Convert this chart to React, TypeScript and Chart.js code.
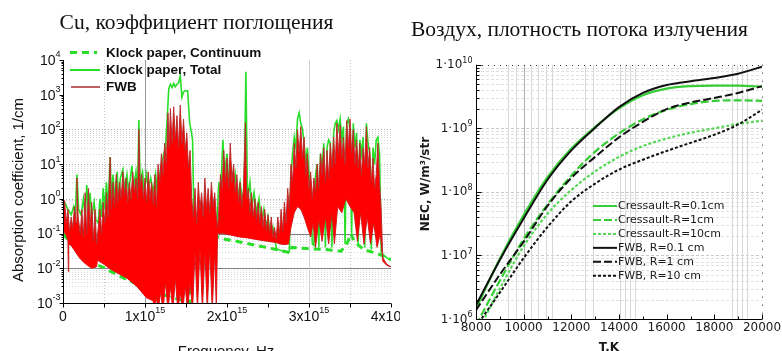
import React, { useEffect, useRef } from 'react';
import { Chart, registerables } from 'chart.js';

Chart.register(...registerables);

/* ====================== LEFT: Cu absorption coefficient ====================== */
// frequency in units of 1e15 Hz, absorption coefficient in 1/cm
const cuXMajorTicks = [0, 1, 2, 3, 4];
const cuXMinorTicks = [0.5, 1.5, 2.5, 3.5];
const cuYDecadeExps = [-3, -2, -1, 0, 1, 2, 3, 4];
const cuLegendLabels = ['Klock paper, Continuum', 'Klock paper, Total', 'FWB'];

const klockContinuum: [number, number][] = [
  [0, 0.1], [0.1, 0.05], [0.2, 0.03], [0.3, 0.018], [0.4, 0.013], [0.5, 0.0105], [0.575, 0.0083],
  [0.7, 0.0058], [0.82, 0.0043], [0.9, 0.0035], [1.0, 0.0028], [1.1, 0.0022], [1.2, 0.0018],
  [1.3, 0.0015], [1.4, 0.0013], [1.5, 0.0011], [1.55, 0.001], [1.551, 0.075], [1.65, 0.068],
  [1.76, 0.06], [1.83, 0.058], [1.84, 0.085], [1.96, 0.07], [2.13, 0.059], [2.37, 0.045],
  [2.57, 0.036], [2.78, 0.028], [2.79, 0.04], [2.98, 0.037], [3.18, 0.035], [3.39, 0.031],
  [3.47, 0.055], [3.51, 0.1], [3.55, 0.06], [3.67, 0.034], [3.83, 0.027], [4.0, 0.018],
];

const klockTotal: [number, number][] = [
  [0, 0.9], [0.03, 0.7], [0.06, 0.5], [0.1, 0.35], [0.13, 0.6], [0.15, 0.4], [0.17, 5], [0.19, 0.5],
  [0.22, 0.35], [0.25, 1.0], [0.27, 0.3], [0.29, 2.5], [0.31, 0.4], [0.33, 1.5], [0.35, 0.3], [0.38, 0.8],
  [0.4, 0.25], [0.43, 0.2], [0.45, 1.0], [0.47, 0.3], [0.49, 2], [0.51, 0.5], [0.53, 3], [0.55, 0.5],
  [0.575, 16], [0.59, 0.8], [0.61, 5], [0.63, 1], [0.66, 6], [0.68, 1], [0.7, 4], [0.73, 7], [0.75, 2],
  [0.78, 5], [0.8, 1.5], [0.84, 9], [0.86, 2], [0.89, 6], [0.91, 1.5], [0.925, 186], [0.94, 3], [0.97, 6],
  [0.99, 1.5], [1.02, 5], [1.04, 2], [1.07, 4], [1.1, 1.5], [1.13, 5], [1.15, 1.5], [1.18, 5], [1.2, 10],
  [1.23, 20], [1.25, 30], [1.27, 200], [1.29, 1500], [1.31, 2000], [1.33, 1600], [1.35, 2100], [1.37, 1700],
  [1.39, 2000], [1.41, 2200], [1.43, 3500], [1.45, 850], [1.47, 1200], [1.49, 1300], [1.52, 1300],
  [1.545, 150], [1.56, 100], [1.58, 50], [1.6, 0.12], [1.62, 0.1], [1.7, 0.09], [1.8, 0.085], [1.86, 0.09],
  [1.88, 0.3], [1.9, 3], [1.92, 1], [1.95, 50], [1.97, 5], [2.0, 20], [2.02, 3], [2.05, 8], [2.08, 2],
  [2.1, 5], [2.13, 1], [2.16, 3], [2.19, 0.8], [2.21, 2], [2.23, 4600], [2.25, 1], [2.28, 3], [2.3, 0.5],
  [2.33, 1.5], [2.36, 0.4], [2.39, 1], [2.42, 0.2], [2.45, 0.5], [2.48, 0.15], [2.5, 0.3], [2.53, 0.08],
  [2.56, 0.15], [2.6, 0.04], [2.62, 0.035], [2.7, 0.03], [2.76, 0.03], [2.78, 5], [2.8, 20], [2.82, 60],
  [2.84, 30], [2.86, 200], [2.88, 300], [2.9, 150], [2.92, 100], [2.94, 40], [2.96, 10], [2.98, 30],
  [3.0, 5], [3.02, 3], [3.04, 0.05], [3.06, 0.045], [3.08, 5], [3.1, 10], [3.12, 0.04], [3.14, 20],
  [3.16, 8], [3.18, 40], [3.2, 0.04], [3.22, 30], [3.24, 50], [3.26, 40], [3.28, 0.04], [3.3, 80],
  [3.32, 150], [3.34, 180], [3.36, 100], [3.38, 200], [3.4, 50], [3.42, 120], [3.44, 0.05], [3.46, 150],
  [3.48, 200], [3.5, 100], [3.52, 0.1], [3.54, 150], [3.56, 30], [3.58, 80], [3.6, 0.05], [3.62, 50],
  [3.64, 20], [3.66, 60], [3.68, 0.04], [3.7, 150], [3.72, 40], [3.74, 20], [3.76, 0.035], [3.78, 30],
  [3.8, 10], [3.82, 50], [3.84, 60], [3.86, 20], [3.88, 0.03], [3.9, 0.025], [3.95, 0.02], [4.0, 0.017],
];

const fwbUpper: [number, number][] = [
  [0, 0.3], [0.02, 0.9], [0.04, 0.2], [0.06, 0.5], [0.08, 0.12], [0.1, 0.3], [0.12, 0.15], [0.14, 0.6],
  [0.16, 0.2], [0.17, 4], [0.185, 0.3], [0.21, 0.1], [0.23, 0.5], [0.25, 0.08], [0.27, 1.5], [0.29, 0.1],
  [0.31, 2], [0.33, 0.15], [0.35, 0.8], [0.37, 0.06], [0.39, 0.5], [0.41, 0.05],
  [0.43, 0.15], [0.45, 0.5], [0.47, 0.1], [0.49, 0.8], [0.51, 0.2], [0.53, 1.5], [0.55, 0.3], [0.575, 16],
  [0.59, 0.5], [0.61, 3], [0.63, 0.6], [0.65, 5], [0.67, 0.8], [0.69, 3], [0.71, 1], [0.73, 6], [0.75, 1.2],
  [0.77, 4], [0.79, 0.8], [0.81, 3], [0.83, 1], [0.85, 6], [0.87, 1.5], [0.89, 4], [0.91, 1], [0.925, 100],
  [0.94, 2], [0.96, 5], [0.98, 1], [1.0, 4], [1.02, 0.8], [1.04, 6], [1.06, 1], [1.08, 3], [1.1, 0.7],
  [1.12, 5], [1.14, 0.6],
  [1.16, 10], [1.18, 3], [1.2, 20], [1.22, 5], [1.24, 40], [1.26, 10], [1.28, 300], [1.295, 30], [1.31, 400],
  [1.33, 40], [1.35, 450], [1.37, 50], [1.39, 250], [1.41, 30], [1.43, 500], [1.45, 40], [1.47, 200],
  [1.49, 25], [1.51, 80], [1.53, 8], [1.55, 25], [1.57, 1],
  [1.59, 0.3], [1.61, 2], [1.63, 0.2], [1.65, 3], [1.67, 0.5], [1.69, 1.5], [1.71, 0.3], [1.73, 4],
  [1.75, 0.5], [1.77, 2], [1.79, 0.4], [1.81, 3], [1.83, 0.6], [1.85, 1.5], [1.87, 0.3], [1.885, 0.15],
  [1.9, 0.5], [1.92, 5], [1.94, 2], [1.96, 25], [1.98, 3], [2.0, 15], [2.02, 2], [2.04, 40], [2.06, 3],
  [2.08, 10], [2.1, 1.5], [2.12, 5], [2.14, 0.8], [2.16, 3], [2.18, 0.6], [2.2, 2], [2.225, 155], [2.24, 1],
  [2.26, 2], [2.28, 0.4], [2.3, 1.5], [2.32, 0.3], [2.34, 1], [2.36, 0.25], [2.38, 0.8], [2.4, 0.2],
  [2.42, 0.6], [2.44, 0.15], [2.46, 0.5], [2.48, 0.12], [2.5, 0.35], [2.52, 0.1], [2.54, 0.3], [2.56, 0.08],
  [2.58, 0.15], [2.6, 0.07],
  [2.62, 0.3], [2.64, 0.1], [2.66, 0.5], [2.68, 0.12], [2.7, 0.8], [2.72, 0.2], [2.74, 2], [2.76, 0.5],
  [2.78, 10], [2.8, 3], [2.82, 40], [2.84, 8], [2.86, 100], [2.88, 20], [2.9, 120], [2.92, 15], [2.94, 60],
  [2.96, 5], [2.98, 20], [3.0, 2], [3.02, 6], [3.04, 1], [3.06, 4], [3.08, 1.5], [3.1, 10], [3.12, 2],
  [3.14, 20], [3.16, 5], [3.18, 30], [3.2, 3], [3.22, 25], [3.24, 4], [3.26, 40], [3.28, 8], [3.3, 60],
  [3.32, 10], [3.34, 150], [3.36, 20], [3.38, 130], [3.4, 15], [3.42, 60], [3.44, 10], [3.46, 180],
  [3.48, 30], [3.5, 200], [3.52, 20], [3.54, 100], [3.56, 10], [3.58, 50], [3.6, 8], [3.62, 40], [3.64, 5],
  [3.66, 30], [3.68, 10], [3.7, 120], [3.72, 8], [3.74, 30], [3.76, 3], [3.78, 15], [3.8, 2], [3.82, 5],
  [3.84, 40], [3.86, 3], [3.88, 0.5], [3.9, 0.02], [3.95, 0.013], [4.0, 0.011],
];

const fwbLower: [number, number][] = [
  [0, 0.12], [0.04, 0.09], [0.06, 0.06], [0.065, 0.008], [0.07, 0.05], [0.1, 0.045], [0.15, 0.03],
  [0.2, 0.02], [0.25, 0.015], [0.3, 0.012], [0.35, 0.01], [0.41, 0.011], [0.42, 0.017], [0.5, 0.013],
  [0.575, 0.0095], [0.7, 0.0065], [0.78, 0.0052], [0.9, 0.003], [1.02, 0.0014], [1.085, 0.0012],
  [1.1, 0.0011], [1.12, 0.0006], [1.14, 0.0015], [1.16, 0.0006], [1.19, 0.002], [1.22, 0.0006],
  [1.25, 0.004], [1.28, 0.0006], [1.31, 0.003], [1.34, 0.0006], [1.37, 0.005], [1.4, 0.0006],
  [1.43, 0.002], [1.46, 0.0006], [1.49, 0.003], [1.52, 0.0006], [1.55, 0.004], [1.58, 0.0006],
  [1.61, 0.03], [1.64, 0.0006], [1.67, 0.04], [1.7, 0.0006], [1.73, 0.03], [1.76, 0.0006], [1.79, 0.04],
  [1.82, 0.0006], [1.85, 0.03], [1.87, 0.0006], [1.885, 0.1], [1.95, 0.1], [2.05, 0.09], [2.15, 0.08],
  [2.25, 0.075], [2.35, 0.068], [2.45, 0.062], [2.55, 0.057], [2.6, 0.055], [2.65, 0.05], [2.7, 0.048],
  [2.75, 0.05], [2.78, 0.15], [2.82, 0.4], [2.86, 0.6], [2.9, 0.5], [2.94, 0.3], [2.98, 0.15], [3.02, 0.08],
  [3.05, 0.2], [3.08, 0.04], [3.12, 0.25], [3.16, 0.06], [3.2, 0.3], [3.24, 0.05], [3.28, 0.4], [3.31, 0.05],
  [3.35, 0.6], [3.4, 0.4], [3.45, 1.0], [3.5, 0.6], [3.55, 0.4], [3.59, 0.06], [3.63, 0.4], [3.67, 0.05],
  [3.71, 0.3], [3.75, 0.05], [3.79, 0.2], [3.83, 0.04], [3.87, 0.1], [3.9, 0.016], [3.95, 0.012], [4.0, 0.011],
];

/* ====================== RIGHT: air net emission coefficient ====================== */
const airTemps = [8000, 9000, 10000, 11000, 12000, 13000, 14000, 15000, 16000, 17000, 18000, 19000, 20000];
const airXLabelTemps = [8000, 10000, 12000, 14000, 16000, 18000, 20000];
const airXMinorTemps = [9000, 11000, 13000, 15000, 17000, 19000];
const airYDecadeExps = [6, 7, 8, 9, 10];
const airGridTemps = [9350, 9680, 10000, 10310, 10620, 10930, 11180, 12580, 12930, 14050, 14260, 14470, 14680, 18740, 18950, 19160, 19370];
const airLegendLabels = ['Cressault-R=0.1cm', 'Cressault-R=1cm', 'Cressault-R=10cm', 'FWB, R=0.1 cm', 'FWB, R=1 cm', 'FWB, R=10 cm'];

const cressaultR01 = [1.45e6, 8.9e6, 4.3e7, 1.7e8, 4.8e8, 1.05e9, 2.05e9, 3.3e9, 4.2e9, 4.6e9, 4.7e9, 4.7e9, 4.5e9];
const cressaultR1 = [8.0e5, 4.0e6, 1.8e7, 6.3e7, 1.8e8, 4.3e8, 8.3e8, 1.38e9, 1.95e9, 2.4e9, 2.7e9, 2.75e9, 2.7e9];
const cressaultR10 = [5.6e5, 3.0e6, 1.4e7, 4.5e7, 1.07e8, 2.1e8, 3.55e8, 5.25e8, 6.9e8, 8.5e8, 1.0e9, 1.17e9, 1.32e9];
const fwbR01 = [1.65e6, 8.5e6, 3.8e7, 1.55e8, 4.5e8, 1.02e9, 2.15e9, 3.6e9, 4.8e9, 5.5e9, 6.2e9, 7.2e9, 9.3e9];
const fwbR1 = [1.38e6, 5.0e6, 1.65e7, 6.0e7, 1.66e8, 3.55e8, 7.2e8, 1.26e9, 2.0e9, 2.55e9, 3.0e9, 3.6e9, 4.6e9];
const fwbR10 = [7.6e5, 2.6e6, 9.1e6, 2.8e7, 7.1e7, 1.35e8, 2.24e8, 3.2e8, 4.4e8, 5.9e8, 7.9e8, 1.15e9, 1.95e9];

/* ====================== styles ====================== */
const SANS = '"Liberation Sans", Arial, sans-serif';
const DJ = '"DejaVu Sans", Verdana, sans-serif';
const K_GREEN = 'rgb(40,222,40)';
const FWB_FILL = 'rgb(255,0,0)';
const FWB_EDGE = 'rgb(185,45,45)';
const A_GREEN = 'rgb(55,205,55)';
const A_GREEN_LIGHT = 'rgb(85,215,85)';
const A_BLACK = '#111';

const toPoints = (pairs: [number, number][]) => pairs.map(([x, y]) => ({ x, y }));
const zipPoints = (xs: number[], ys: number[]) => xs.map((x, i) => ({ x, y: ys[i] }));

function seg(ctx: CanvasRenderingContext2D, x1: number, y1: number, x2: number, y2: number) {
  ctx.beginPath();
  ctx.moveTo(x1, y1);
  ctx.lineTo(x2, y2);
  ctx.stroke();
}

function supText(ctx: CanvasRenderingContext2D, base: string, exp: string, x: number, y: number,
  baseFont: string, expFont: string, align: string, raise: number) {
  ctx.font = baseFont;
  const wb = ctx.measureText(base).width;
  ctx.font = expFont;
  const we = exp ? ctx.measureText(exp).width : 0;
  const total = wb + we;
  const x0 = align === 'right' ? x - total : align === 'center' ? x - total / 2 : x;
  ctx.textAlign = 'left';
  ctx.textBaseline = 'middle';
  ctx.font = baseFont;
  ctx.fillText(base, x0, y);
  if (exp) {
    ctx.font = expFont;
    ctx.fillText(exp, x0 + wb, y - raise);
  }
}

const cuDecor = {
  id: 'cuDecor',
  beforeDatasetsDraw(chart: any) {
    const { ctx, chartArea: a, scales } = chart;
    const xs = scales.x;
    const ys = scales.y;
    ctx.save();
    ctx.lineWidth = 1;
    ctx.strokeStyle = '#d6d6d6';
    ctx.setLineDash([1, 2]);
    cuYDecadeExps.forEach((e) => {
      if (e > 1) return;
      for (let m = 2; m <= 9; m++) {
        const py = Math.round(ys.getPixelForValue(m * Math.pow(10, e))) + 0.5;
        if (py > a.top && py < a.bottom) seg(ctx, a.left, py, a.right, py);
      }
    });
    cuYDecadeExps.forEach((e) => {
      const py = Math.round(ys.getPixelForValue(Math.pow(10, e))) + 0.5;
      if (e === -1 || e === -2) {
        ctx.setLineDash([]);
        ctx.strokeStyle = '#808080';
        seg(ctx, a.left, py, a.right, py);
      } else if (e >= 0 && e <= 2) {
        ctx.setLineDash([1, 2]);
        ctx.strokeStyle = '#aaaaaa';
        seg(ctx, a.left, py, a.right, py);
      }
    });
    cuXMajorTicks.forEach((v) => {
      const px = Math.round(xs.getPixelForValue(v)) + 0.5;
      if (v === 1) { ctx.setLineDash([]); ctx.strokeStyle = '#9a9a9a'; seg(ctx, px, a.top, px, a.bottom); }
      if (v === 3) { ctx.setLineDash([]); ctx.strokeStyle = '#d0d0d0'; seg(ctx, px, a.top, px, a.bottom); }
    });
    cuXMinorTicks.forEach((v) => {
      const px = Math.round(xs.getPixelForValue(v)) + 0.5;
      if (v === 0.5 || v === 3.5) { ctx.setLineDash([1, 2]); ctx.strokeStyle = '#c4c4c4'; seg(ctx, px, a.top, px, a.bottom); }
    });
    ctx.restore();
  },
  afterDatasetsDraw(chart: any) {
    const { ctx, chartArea: a, scales } = chart;
    const xs = scales.x;
    const ys = scales.y;
    ctx.save();
    ctx.setLineDash([]);
    ctx.strokeStyle = '#000';
    ctx.lineWidth = 1;
    const L = Math.round(a.left) + 0.5;
    const B = Math.round(a.bottom) + 0.5;
    seg(ctx, L, a.top, L, B);
    seg(ctx, L, B, a.right, B);
    cuYDecadeExps.forEach((e) => {
      const py = Math.round(ys.getPixelForValue(Math.pow(10, e))) + 0.5;
      seg(ctx, L - 4, py, L, py);
      if (e < 4) {
        for (let m = 2; m <= 9; m++) {
          const pm = Math.round(ys.getPixelForValue(m * Math.pow(10, e))) + 0.5;
          seg(ctx, L - 2, pm, L, pm);
        }
      }
    });
    [...cuXMajorTicks, ...cuXMinorTicks].forEach((v) => {
      const px = Math.round(xs.getPixelForValue(v)) + 0.5;
      seg(ctx, px, B, px, B + 4);
    });
    ctx.fillStyle = '#111';
    cuYDecadeExps.forEach((e) => {
      const py = ys.getPixelForValue(Math.pow(10, e));
      supText(ctx, '10', String(e), L - 3, py + 1, `14px ${SANS}`, `9px ${SANS}`, 'right', 6);
    });
    cuXMajorTicks.forEach((v) => {
      const px = xs.getPixelForValue(v);
      if (v === 0) supText(ctx, '0', '', px, 317, `14px ${SANS}`, `9px ${SANS}`, 'center', 6);
      else supText(ctx, `${v}x10`, '15', px, 317, `14px ${SANS}`, `9px ${SANS}`, 'center', 6);
    });
    ctx.font = `15px ${SANS}`;
    ctx.textAlign = 'center';
    ctx.textBaseline = 'alphabetic';
    ctx.fillText('Frequency, Hz', 226, 356);
    ctx.save();
    ctx.translate(22.5, 190);
    ctx.rotate(-Math.PI / 2);
    ctx.fillText('Absorption coefficient, 1/cm', 0, 0);
    ctx.restore();
    const ds = chart.data.datasets;
    const rows = [
      { ds: ds[2], y: 52.5, x1: 70, x2: 97, w: 3, color: K_GREEN },
      { ds: ds[3], y: 70, x1: 70, x2: 100, w: 2, color: K_GREEN },
      { ds: ds[0], y: 87, x1: 71, x2: 100, w: 1.5, color: 'rgb(170,45,45)' },
    ];
    rows.forEach((r, i) => {
      ctx.strokeStyle = r.color;
      ctx.lineWidth = r.w;
      ctx.setLineDash(r.ds.borderDash || []);
      seg(ctx, r.x1, r.y, r.x2, r.y);
      ctx.setLineDash([]);
      ctx.fillStyle = '#111';
      ctx.font = `bold 13.5px ${SANS}`;
      ctx.textAlign = 'left';
      ctx.textBaseline = 'middle';
      ctx.fillText(cuLegendLabels[i], 106, r.y + 0.5);
    });
    ctx.restore();
  },
};

const airDecor = {
  id: 'airDecor',
  beforeDatasetsDraw(chart: any) {
    const { ctx, chartArea: a, scales } = chart;
    const xs = scales.x;
    const ys = scales.y;
    ctx.save();
    ctx.lineWidth = 1;
    ctx.strokeStyle = '#e0e0e0';
    ctx.setLineDash([3, 2]);
    airYDecadeExps.forEach((e) => {
      if (e >= 10) return;
      for (let m = 2; m <= 9; m++) {
        const py = Math.round(ys.getPixelForValue(m * Math.pow(10, e))) + 0.5;
        seg(ctx, a.left, py, a.right, py);
      }
    });
    ctx.strokeStyle = '#c8c8c8';
    airYDecadeExps.forEach((e) => {
      if (e === 6 || e === 10) return;
      const py = Math.round(ys.getPixelForValue(Math.pow(10, e))) + 0.5;
      seg(ctx, a.left, py, a.right, py);
    });
    ctx.setLineDash([]);
    airGridTemps.forEach((t) => {
      const px = Math.round(xs.getPixelForValue(t)) + 0.5;
      ctx.strokeStyle = t === 10000 ? '#b0b0b0' : '#d8d8d8';
      seg(ctx, px, a.top, px, a.bottom);
    });
    ctx.strokeStyle = '#333';
    ctx.setLineDash([1, 5]);
    const T = Math.round(a.top) + 0.5;
    const R = Math.round(a.right) + 0.5;
    seg(ctx, a.left, T, a.right, T);
    ctx.setLineDash([1, 7]);
    seg(ctx, R, a.top, R, a.bottom);
    ctx.restore();
  },
  afterDatasetsDraw(chart: any) {
    const { ctx, chartArea: a, scales } = chart;
    const xs = scales.x;
    const ys = scales.y;
    ctx.save();
    ctx.setLineDash([]);
    ctx.strokeStyle = '#000';
    ctx.lineWidth = 1;
    const L = Math.round(a.left) + 0.5;
    const B = Math.round(a.bottom) + 0.5;
    seg(ctx, L, a.top, L, B);
    seg(ctx, L, B, a.right, B);
    airYDecadeExps.forEach((e) => {
      const py = Math.round(ys.getPixelForValue(Math.pow(10, e))) + 0.5;
      seg(ctx, L, py, L + 5, py);
      if (e < 10) {
        for (let m = 2; m <= 9; m++) {
          const pm = Math.round(ys.getPixelForValue(m * Math.pow(10, e))) + 0.5;
          seg(ctx, L, pm, L + 3, pm);
        }
      }
    });
    airXLabelTemps.forEach((t) => {
      const px = Math.round(xs.getPixelForValue(t)) + 0.5;
      seg(ctx, px, B, px, B - 5);
    });
    airXMinorTemps.forEach((t) => {
      const px = Math.round(xs.getPixelForValue(t)) + 0.5;
      seg(ctx, px, B, px, B - 3);
    });
    ctx.fillStyle = '#1a1a1a';
    airYDecadeExps.forEach((e) => {
      const py = ys.getPixelForValue(Math.pow(10, e));
      supText(ctx, '1\u00B710', String(e), L - 4, py + 0.5, `12px ${DJ}`, `8px ${DJ}`, 'right', 4.5);
    });
    ctx.font = `12px ${DJ}`;
    ctx.textAlign = 'center';
    ctx.textBaseline = 'middle';
    airXLabelTemps.forEach((t) => {
      ctx.fillText(String(t), xs.getPixelForValue(t), 328);
    });
    ctx.font = `bold 12px ${DJ}`;
    ctx.textBaseline = 'alphabetic';
    ctx.fillText('T,K', 209, 350.5);
    ctx.save();
    ctx.translate(25.5, 184);
    ctx.rotate(-Math.PI / 2);
    ctx.textBaseline = 'middle';
    ctx.fillText('NEC, W/m\u00B3/str', 0, 0);
    ctx.restore();
    const ds = chart.data.datasets;
    airLegendLabels.forEach((label, i) => {
      const d = ds[i];
      const y = 206 + i * 13.95;
      ctx.strokeStyle = d.borderColor;
      ctx.lineWidth = 2;
      ctx.setLineDash(d.borderDash || []);
      seg(ctx, 193, y, 217, y);
      ctx.setLineDash([]);
      ctx.fillStyle = '#1a1a1a';
      ctx.font = `11px ${DJ}`;
      ctx.textAlign = 'left';
      ctx.textBaseline = 'middle';
      ctx.fillText(label, 218, y + 0.5);
    });
    ctx.restore();
  },
};

function cuConfig(): any {
  return {
    type: 'line',
    data: {
      datasets: [
        { label: 'FWB', data: toPoints(fwbUpper), borderColor: FWB_EDGE, borderWidth: 1, backgroundColor: FWB_FILL, fill: 1, order: 0 },
        { label: 'FWB lower', data: toPoints(fwbLower), borderColor: FWB_EDGE, borderWidth: 1, fill: false, order: 1 },
        { label: cuLegendLabels[0], data: toPoints(klockContinuum), borderColor: K_GREEN, borderWidth: 3, borderDash: [7, 5], fill: false, order: 2 },
        { label: cuLegendLabels[1], data: toPoints(klockTotal), borderColor: K_GREEN, borderWidth: 1.6, fill: false, order: 3 },
      ],
    },
    options: {
      animation: false,
      responsive: false,
      maintainAspectRatio: false,
      events: [],
      layout: { padding: { left: 63, top: 60, right: 9, bottom: 48 } },
      elements: { point: { radius: 0 }, line: { tension: 0 } },
      scales: {
        x: { type: 'linear', min: 0, max: 4, display: false },
        y: { type: 'logarithmic', min: 1e-3, max: 1e4, display: false },
      },
      plugins: { legend: { display: false }, tooltip: { enabled: false } },
    },
    plugins: [cuDecor],
  };
}

function airConfig(): any {
  const mk = (label: string, ys: number[], color: string, dash: number[], width: number, order: number) => ({
    label, data: zipPoints(airTemps, ys), borderColor: color, borderDash: dash, borderWidth: width,
    fill: false, order, cubicInterpolationMode: 'monotone',
  });
  return {
    type: 'line',
    data: {
      datasets: [
        mk(airLegendLabels[0], cressaultR01, A_GREEN, [], 2.2, 2),
        mk(airLegendLabels[1], cressaultR1, A_GREEN, [8, 3], 2.2, 2),
        mk(airLegendLabels[2], cressaultR10, A_GREEN_LIGHT, [3, 2], 2.2, 2),
        mk(airLegendLabels[3], fwbR01, A_BLACK, [], 2, 1),
        mk(airLegendLabels[4], fwbR1, A_BLACK, [8, 3], 2, 1),
        mk(airLegendLabels[5], fwbR10, A_BLACK, [3, 2], 2, 1),
      ],
    },
    options: {
      animation: false,
      responsive: false,
      maintainAspectRatio: false,
      events: [],
      layout: { padding: { left: 76, top: 64.7, right: 20, bottom: 32 } },
      elements: { point: { radius: 0 } },
      scales: {
        x: { type: 'linear', min: 8000, max: 20000, display: false },
        y: { type: 'logarithmic', min: 1e6, max: 1e10, display: false },
      },
      plugins: { legend: { display: false }, tooltip: { enabled: false } },
    },
    plugins: [airDecor],
  };
}

export default function App() {
  const leftRef = useRef<HTMLCanvasElement>(null);
  const rightRef = useRef<HTMLCanvasElement>(null);
  useEffect(() => {
    const c1 = new Chart(leftRef.current as HTMLCanvasElement, cuConfig());
    const c2 = new Chart(rightRef.current as HTMLCanvasElement, airConfig());
    return () => {
      c1.destroy();
      c2.destroy();
    };
  }, []);
  const titleBase: any = {
    position: 'absolute', whiteSpace: 'nowrap', transform: 'translateX(-50%)',
    fontFamily: '"Liberation Serif", "Times New Roman", serif', color: '#111',
  };
  return (
    <div style={{ position: 'absolute', left: 0, top: 0, width: 782, height: 351, background: '#fff', overflow: 'hidden' }}>
      <canvas ref={leftRef} width={400} height={351} style={{ position: 'absolute', left: 0, top: 0, width: 400, height: 351 }} />
      <canvas ref={rightRef} width={382} height={351} style={{ position: 'absolute', left: 400, top: 0, width: 382, height: 351 }} />
      <div style={{ ...titleBase, left: 196.5, top: 12, fontSize: 21.5, lineHeight: '21.5px' }}>Cu, коэффициент поглощения</div>
      <div style={{ ...titleBase, left: 579.5, top: 18.6, fontSize: 21.5, lineHeight: '21.5px' }}>Воздух, плотность потока излучения</div>
    </div>
  );
}
